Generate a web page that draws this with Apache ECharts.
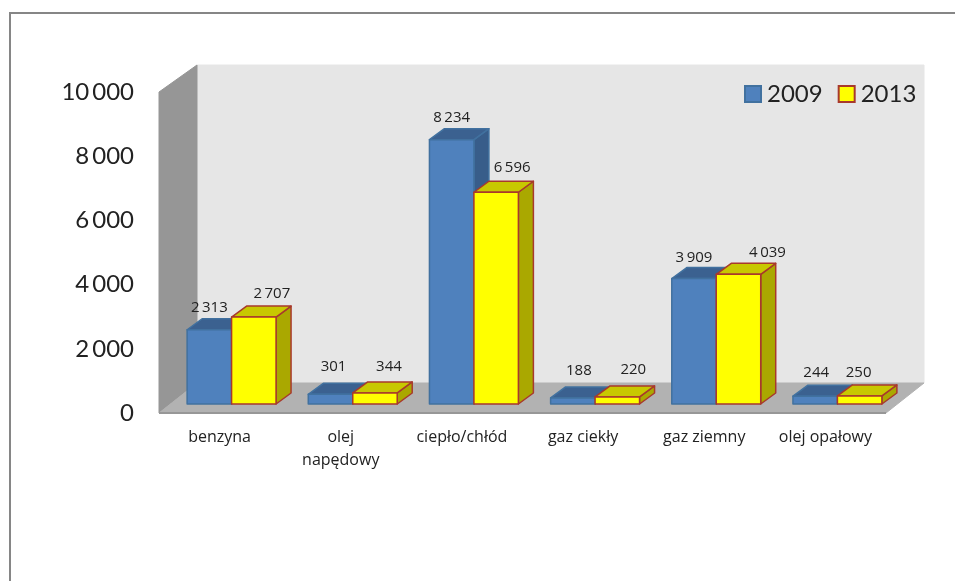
<!DOCTYPE html>
<html><head><meta charset="utf-8">
<style>html,body{margin:0;padding:0;background:#fff}#c{width:955px;height:581px}</style>
<script src="https://cdn.jsdelivr.net/npm/echarts@6/dist/echarts.min.js"></script>
</head><body><div id="c"></div>
<script>
const categories = ['benzyna','olej\nnapędowy','ciepło/chłód','gaz ciekły','gaz ziemny','olej opałowy'];
const values2009 = [2313,301,8234,188,3909,244];
const values2013 = [2707,344,6596,220,4039,250];
const yTicks = {min:0,max:10000,interval:2000};
// hand-placed data-label offsets [dx, rise] in the source chart
const nudge2009 = [[0,22],[3,28],[0,22],[6,27],[0,21],[1,23]];
const nudge2013 = [[18,23],[14,26],[16,25],[16,27],[29,22],[-1,23]];

const fmt = v => String(v).replace(/\B(?=(\d{3})+$)/g,'\u2009');
const FONT = 'Lato', SMALL = 'Open Sans';
const WALL_DX = 38, WALL_DY = 30, FRONT_DX = 12, FRONT_DY = 9, DX = 15, DY = 11;

function wallRender(params, api){
  const r = params.coordSys;
  const x0 = r.x, x1 = r.x + r.width, t = r.y, b = r.y + r.height;
  const poly = (pts, fill, stroke) => ({type:'polygon',shape:{points:pts},style:{fill,stroke:stroke||fill,lineWidth:1}});
  return {type:'group',children:[
    poly([[x0+WALL_DX,t-27],[x1+WALL_DX,t-27],[x1+WALL_DX,b-WALL_DY],[x0+WALL_DX,b-WALL_DY]],'#e6e6e6'),
    poly([[x0,t],[x0+WALL_DX,t-27],[x0+WALL_DX,b-WALL_DY],[x0,b]],'#969696'),
    poly([[x0,b],[x0+WALL_DX,b-WALL_DY],[x1+WALL_DX,b-WALL_DY],[x1,b]],'#b2b2b2'),
    {type:'line',shape:{x1:x0,y1:b,x2:x1,y2:b},style:{stroke:'#979797',lineWidth:2}}
  ]};
}

function barRender(side, colors, nudge){
  return function(params, api){
    const i = api.value(0), v = api.value(1);
    const size = api.size([1,0])[0];
    const w = size * 0.367;
    const c = api.coord([i,v]), z = api.coord([i,0]);
    const l = c[0] + FRONT_DX + (side < 0 ? -w : 0), rr = l + w;
    const t = c[1] - FRONT_DY, b = z[1] - FRONT_DY;
    const st = f => ({fill:f,stroke:colors.border,lineWidth:1.5,lineJoin:'round'});
    const n = nudge[params.dataIndex];
    return {type:'group',children:[
      {type:'polygon',shape:{points:[[rr,t],[rr+DX,t-DY],[rr+DX,b-DY],[rr,b]]},style:st(colors.side)},
      {type:'polygon',shape:{points:[[l,t],[l+DX,t-DY],[rr+DX,t-DY],[rr,t]]},style:st(colors.top)},
      {type:'rect',shape:{x:l,y:t,width:w,height:b-t},style:st(colors.front)},
      {type:'text',style:{text:fmt(v),x:l+w/2+n[0],y:t-n[1],align:'center',verticalAlign:'middle',
        fill:'#222',font:'15px "'+SMALL+'"'}}
    ]};
  };
}
const blue = {front:'#4f81bd',top:'#3b6190',side:'#385d8a',border:'#41719f'};
const yellow = {front:'#ffff00',top:'#c8c800',side:'#aaa800',border:'#a8392c'};

const chart = echarts.init(document.getElementById('c'),null,{renderer:'canvas'});
chart.setOption({
  animation:false,
  backgroundColor:'#fff',
  grid:{left:159,top:92,width:727,height:321},
  legend:{data:['2009','2013'],left:739,top:77,icon:'rect',itemWidth:16,itemHeight:16,itemGap:15,
    textStyle:{fontFamily:FONT,fontSize:24,color:'#222',padding:[0,0,0,1]}},
  xAxis:{type:'category',data:categories,axisLine:{show:false},axisTick:{show:false},
    axisLabel:{interval:0,margin:13,fontFamily:SMALL,fontSize:16,color:'#222',lineHeight:23}},
  yAxis:{type:'value',min:yTicks.min,max:yTicks.max,interval:yTicks.interval,
    axisLine:{show:false},axisTick:{show:false},splitLine:{show:false},
    axisLabel:{margin:25,fontFamily:FONT,fontSize:24,color:'#222',formatter:fmt}},
  graphic:[{type:'polyline',shape:{points:[[10,581],[10,13],[955,13]]},style:{fill:'none',stroke:'#868686',lineWidth:2}}],
  series:[
    {type:'custom',name:'walls',renderItem:wallRender,data:[[0,0]],silent:true,clip:false},
    {type:'custom',name:'2009',renderItem:barRender(-1,blue,nudge2009),data:values2009.map((v,i)=>[i,v]),
      encode:{x:0,y:1},itemStyle:{color:blue.front,borderColor:blue.border,borderWidth:1.5}},
    {type:'custom',name:'2013',renderItem:barRender(1,yellow,nudge2013),data:values2013.map((v,i)=>[i,v]),
      encode:{x:0,y:1},itemStyle:{color:yellow.front,borderColor:yellow.border,borderWidth:1.5}}
  ]
});
</script></body></html>
